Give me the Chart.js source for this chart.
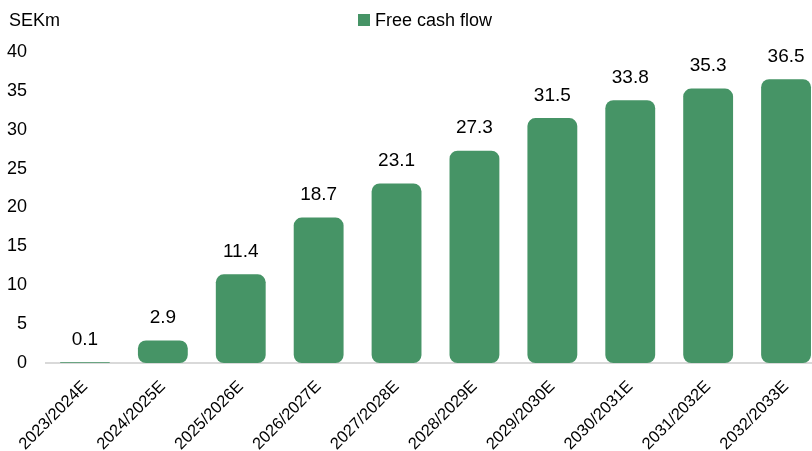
<!DOCTYPE html>
<html>
<head>
<meta charset="utf-8">
<script src="https://cdn.jsdelivr.net/npm/chart.js@4/dist/chart.umd.min.js"></script>
<style>
  html, body { margin: 0; padding: 0; background: #fff; overflow: hidden; }
  #wrap { width: 825px; height: 451px; }
</style>
</head>
<body>
<div id="wrap"><canvas id="fcf"></canvas></div>
<script>
const categories = ['2023/2024E', '2024/2025E', '2025/2026E', '2026/2027E', '2027/2028E',
  '2028/2029E', '2029/2030E', '2030/2031E', '2031/2032E', '2032/2033E'];
const freeCashFlow = [0.1, 2.9, 11.4, 18.7, 23.1, 27.3, 31.5, 33.8, 35.3, 36.5];
const yTicks = [0, 5, 10, 15, 20, 25, 30, 35, 40];

const FONT = "'Liberation Sans Narrow', 'Liberation Sans', Arial, sans-serif";
const GREEN = '#469466';

// value labels above bars + unit label + legend
const extras = {
  id: 'extras',
  afterDatasetsDraw(chart) {
    const ctx = chart.ctx;
    const meta = chart.getDatasetMeta(0);
    ctx.save();
    ctx.fillStyle = '#000';
    ctx.font = '19px ' + FONT;
    ctx.textAlign = 'center';
    ctx.textBaseline = 'bottom';
    meta.data.forEach((bar, i) => {
      ctx.fillText(freeCashFlow[i].toFixed(1), bar.x, bar.y - 13);
    });

    ctx.textAlign = 'left';
    ctx.textBaseline = 'middle';
    ctx.font = '18px ' + FONT;
    ctx.fillText('SEKm', 9, 21);

    const label = chart.data.datasets[0].label;
    ctx.fillStyle = GREEN;
    ctx.fillRect(358, 14, 12, 12);
    ctx.fillStyle = '#000';
    ctx.fillText(label, 375, 21);
    ctx.restore();
  }
};

new Chart(document.getElementById('fcf').getContext('2d'), {
  type: 'bar',
  data: {
    labels: categories,
    datasets: [{
      label: 'Free cash flow',
      data: freeCashFlow,
      backgroundColor: GREEN,
      borderRadius: 8,
      borderSkipped: false,
      categoryPercentage: 1,
      barPercentage: 0.64
    }]
  },
  options: {
    responsive: true,
    maintainAspectRatio: false,
    animation: false,
    layout: { padding: { top: 52, right: 0, bottom: 0, left: 0 } },
    plugins: {
      legend: { display: false },
      tooltip: { enabled: false }
    },
    scales: {
      x: {
        grid: { display: false, drawTicks: false },
        border: { display: true, color: '#d9d9d9', width: 2 },
        ticks: {
          color: '#000',
          font: { family: FONT, size: 16.5 },
          maxRotation: 45,
          minRotation: 45,
          padding: 14,
          autoSkip: false
        },
        afterFit: s => { s.height = 88; }
      },
      y: {
        min: 0,
        max: 40,
        grid: { display: false, drawTicks: false },
        border: { display: false },
        afterBuildTicks: s => { s.ticks = yTicks.map(v => ({ value: v })); },
        ticks: {
          color: '#000',
          font: { family: FONT, size: 18 },
          padding: 19
        },
        afterFit: s => { s.width = 46; }
      }
    }
  },
  plugins: [extras]
});
</script>
</body>
</html>
